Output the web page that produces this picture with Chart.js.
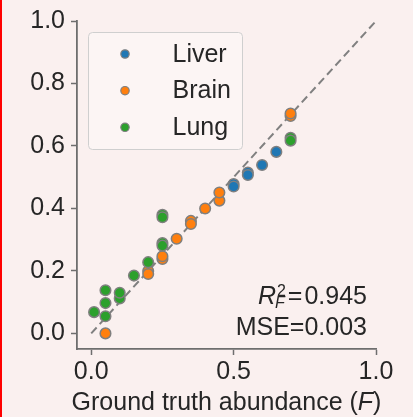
<!DOCTYPE html>
<html><head><meta charset="utf-8">
<script src="https://cdn.jsdelivr.net/npm/chart.js@4.4.1/dist/chart.umd.min.js"></script>
<style>
html,body{margin:0;padding:0;background:#faf0ef;width:413px;height:417px;overflow:hidden;}
#wrap{position:relative;width:413px;height:417px;}
#bar{position:absolute;left:0;top:0;width:2px;height:417px;background:#ff0000;}
canvas{display:block;}
</style></head><body>
<div id="wrap"><canvas id="c" width="413" height="417"></canvas><div id="bar"></div></div>
<script>
const FONT = '"Liberation Sans", Arial, Helvetica, sans-serif';

// ---- data ----
const seriesNames = ['Liver', 'Brain', 'Lung'];
const seriesColors = ['#1f77b4', '#ff7f0e', '#2ca02c'];

const liverX = [0.5, 0.5, 0.55, 0.55, 0.6, 0.65];
const liverY = [0.478, 0.47, 0.515, 0.507, 0.539, 0.581];

const brainX = [0.05, 0.2, 0.2, 0.25, 0.25, 0.3, 0.35, 0.35, 0.4, 0.45, 0.45, 0.7, 0.7];
const brainY = [0.0, 0.20, 0.19, 0.238, 0.247, 0.303, 0.36, 0.35, 0.40, 0.425, 0.451, 0.696, 0.704];

const lungX = [0.01, 0.05, 0.05, 0.05, 0.1, 0.1, 0.15, 0.2, 0.25, 0.25, 0.25, 0.25, 0.7, 0.7];
const lungY = [0.068, 0.055, 0.097, 0.138, 0.112, 0.13, 0.185, 0.228, 0.289, 0.281, 0.38, 0.372, 0.626, 0.617];

const diagX = [0, 1];
const diagY = [0, 1];

const xTicks = [0, 0.5, 1.0];
const yTicks = [0, 0.2, 0.4, 0.6, 0.8, 1.0];

const xTitleMain = 'Ground truth abundance (';
const xTitleVar = 'F';
const xTitleEnd = ')';
const r2Value = '0.945';
const mseValue = '0.003';

// ---- helpers ----
const pts = (xs, ys) => xs.map((x, i) => ({x: x, y: ys[i]}));
const EDGE = '#7f7f7f';

const seriesData = [pts(liverX, liverY), pts(brainX, brainY), pts(lungX, lungY)];

const datasets = seriesNames.map((name, i) => ({
  type: 'scatter',
  label: name,
  data: seriesData[i],
  backgroundColor: seriesColors[i],
  borderColor: EDGE,
  borderWidth: 1.5,
  pointRadius: 5.3,
  order: 3 - i
}));
datasets.push({
  type: 'line',
  label: 'diag',
  data: pts(diagX, diagY),
  borderColor: '#808080',
  borderWidth: 2,
  borderDash: [8, 4.5],
  pointRadius: 0,
  fill: false,
  order: 10
});

const decorPlugin = {
  id: 'decor',
  afterDraw(chart) {
    const ctx = chart.ctx;
    const ca = chart.chartArea;
    ctx.save();
    // legend box
    ctx.beginPath();
    ctx.roundRect(88.5, 32.5, 154, 117, 4);
    ctx.fillStyle = 'rgba(255,255,255,0.35)';
    ctx.fill();
    ctx.strokeStyle = '#cfcfcf';
    ctx.lineWidth = 1;
    ctx.stroke();
    const rowY = [54, 90.7, 127.3];
    chart.data.datasets.slice(0, 3).forEach((ds, i) => {
      ctx.beginPath();
      ctx.arc(125, rowY[i], 4.2, 0, Math.PI * 2);
      ctx.fillStyle = ds.backgroundColor;
      ctx.fill();
      ctx.strokeStyle = EDGE;
      ctx.lineWidth = 1.2;
      ctx.stroke();
      ctx.fillStyle = '#262626';
      ctx.font = '25px ' + FONT;
      ctx.textAlign = 'left';
      ctx.textBaseline = 'alphabetic';
      ctx.fillText(ds.label, 172.5, rowY[i] + 7.5);
    });

    // x axis title with italic variable
    ctx.fillStyle = '#262626';
    ctx.textBaseline = 'alphabetic';
    ctx.textAlign = 'left';
    const fN = '25px ' + FONT, fI = 'italic 25px ' + FONT;
    ctx.font = fN; const w1 = ctx.measureText(xTitleMain).width;
    ctx.font = fI; const w2 = ctx.measureText(xTitleVar).width;
    ctx.font = fN; const w3 = ctx.measureText(xTitleEnd).width;
    let x0 = (ca.left + ca.right) / 2 - (w1 + w2 + w3) / 2;
    const by = 410;
    ctx.font = fN; ctx.fillText(xTitleMain, x0, by);
    ctx.font = fI; ctx.fillText(xTitleVar, x0 + w1, by);
    ctx.font = fN; ctx.fillText(xTitleEnd, x0 + w1 + w2, by);

    // stats annotation
    const right = 367;
    ctx.font = fN;
    ctx.textAlign = 'right';
    ctx.fillText('MSE=' + mseValue, right, 335);
    ctx.textAlign = 'left';
    const gapA = 1, gapB = 2;
    ctx.font = fN;
    const wEq = ctx.measureText('=').width;
    const wVal = ctx.measureText(r2Value).width;
    const fs = '16px ' + FONT, fsi = 'italic 16px ' + FONT;
    ctx.font = fs; const ws2 = ctx.measureText('2').width;
    ctx.font = fsi; const wsF = ctx.measureText('F').width;
    const wb = Math.max(ws2, wsF) + 1;
    ctx.font = fI; const wR = ctx.measureText('R').width;
    const startX = right - wVal - wEq - gapA - gapB - wb - wR;
    const b1 = 303.5;
    ctx.font = fI; ctx.fillText('R', startX, b1);
    ctx.font = fs; ctx.fillText('2', startX + wR + 1, b1 - 7.5);
    ctx.font = fsi; ctx.fillText('F', startX + wR - 1, b1 + 4);
    const eqX = startX + wR + wb + gapA;
    ctx.font = fN; ctx.fillText('=', eqX, b1);
    ctx.fillText(r2Value, eqX + wEq + gapB, b1);
    ctx.restore();
  }
};

const axisCommon = {
  type: 'linear',
  grid: {display: true, drawOnChartArea: false, drawTicks: true, tickLength: 6, tickWidth: 1.5, tickColor: '#6e6e6e'},
  border: {display: true, color: '#6e6e6e', width: 1.8},
  ticks: {color: '#262626', font: {family: FONT, size: 25}, callback: v => Number(v).toFixed(1), autoSkip: false, maxRotation: 0}
};

new Chart(document.getElementById('c'), {
  data: {datasets: datasets},
  options: {
    responsive: false,
    devicePixelRatio: 1,
    animation: false,
    events: [],
    layout: {padding: {top: 20, right: 37, bottom: 0, left: 0}},
    plugins: {legend: {display: false}, tooltip: {enabled: false}},
    scales: {
      x: Object.assign({}, axisCommon, {
        position: 'bottom', min: -0.05, max: 1.0,
        afterBuildTicks: s => { s.ticks = xTicks.map(v => ({value: v})); },
        afterFit: s => { s.height = 68; },
        ticks: Object.assign({}, axisCommon.ticks, {padding: 2})
      }),
      y: Object.assign({}, axisCommon, {
        position: 'left', min: -0.05, max: 1.0,
        afterBuildTicks: s => { s.ticks = yTicks.map(v => ({value: v})); },
        afterFit: s => { s.width = 77; },
        ticks: Object.assign({}, axisCommon.ticks, {padding: 6})
      })
    }
  },
  plugins: [decorPlugin]
});
</script>
</body></html>
